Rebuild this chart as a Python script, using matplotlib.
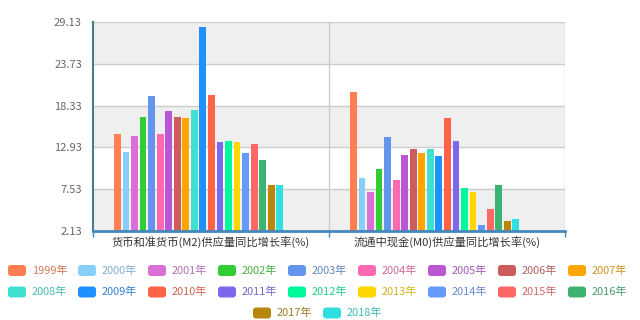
import matplotlib
matplotlib.use("Agg")
import matplotlib.pyplot as plt
import matplotlib.patches as mpatches
import matplotlib.transforms as mtransforms
from matplotlib.colors import to_rgb
import numpy as np

plt.rcParams['font.family'] = ['Noto Sans CJK SC', 'DejaVu Sans']

# categories and yearly series
categories = ['货币和准货币(M2)供应量同比增长率(%)', '流通中现金(M0)供应量同比增长率(%)']
years = [str(y) + '年' for y in range(1999, 2019)]
m2 = [14.7, 12.3, 14.4, 16.8, 19.6, 14.6, 17.6, 16.9, 16.7, 17.8,
      28.5, 19.7, 13.6, 13.8, 13.6, 12.2, 13.3, 11.3, 8.1, 8.1]
m0 = [20.1, 8.9, 7.1, 10.1, 14.3, 8.7, 11.9, 12.7, 12.2, 12.7,
      11.8, 16.7, 13.8, 7.7, 7.1, 2.9, 4.9, 8.1, 3.4, 3.6]
yticks = [2.13, 7.53, 12.93, 18.33, 23.73, 29.13]

colors = ['#ff7f50', '#87cefa', '#da70d6', '#32cd32', '#6495ed', '#ff69b4',
          '#ba55d3', '#cd5c5c', '#ffa500', '#40e0d0', '#1e90ff', '#ff6347',
          '#7b68ee', '#00fa9a', '#ffd700', '#6699ff', '#ff6666', '#3cb371',
          '#b8860b', '#30e0e0']

fig = plt.figure(figsize=(6.4, 3.2), dpi=100)

# legend layer (pixel coordinates)
lax = fig.add_axes([0, 0, 1, 1])
lax.set_xlim(0, 640)
lax.set_ylim(320, 0)
lax.axis('off')

ax = fig.add_axes([93 / 640, 1 - 230.7 / 320, 472 / 640, 208.4 / 320])
ax.set_xlim(0, 2)
ax.set_ylim(yticks[0], yticks[-1])

# alternating split areas
for k in range(len(yticks) - 1):
    if k % 2 == 0:
        ax.axhspan(yticks[k], yticks[k + 1], color='#efefef', zorder=0, lw=0)
for t in yticks[1:]:
    ax.axhline(t, color='#cccccc', lw=1, zorder=1)
ax.axvline(1, color='#cccccc', lw=1, zorder=1)
ax.axvline(2, color='#cccccc', lw=1, zorder=1)

pitch = 0.0362
width = 0.029
cat_x = np.arange(len(categories))
for j in range(len(years)):
    vals = [m2[j], m0[j]]
    ax.bar(cat_x + 0.1035 + j * pitch, np.array(vals) - yticks[0], width,
           bottom=yticks[0], color=colors[j], lw=0, zorder=2)

for s in ['top', 'right']:
    ax.spines[s].set_visible(False)
ax.spines['bottom'].set_color('#4488bb')
ax.spines['bottom'].set_linewidth(2)
ax.spines['left'].set_color('#4a7a8c')
ax.spines['left'].set_linewidth(1.5)

ax.set_yticks(yticks)
ax.set_yticklabels(['%.2f' % t for t in yticks], fontsize=8, color='#666666')
ax.tick_params(axis='y', length=0, pad=8)
ax.set_xticks([0, 1, 2])
ax.set_xticklabels([])
ax.tick_params(axis='x', length=4, color='#4488bb', width=1)
trans = mtransforms.blended_transform_factory(ax.transData, ax.transAxes)
for i, c in enumerate(categories):
    ax.text(i + 0.5, -0.03, c, transform=trans, ha='center', va='top',
            fontsize=8.1, color='#333333')


def muted(c):
    r = np.array(to_rgb(c))
    return tuple(0.7 * r + 0.3 * np.array([0.4, 0.4, 0.4]))


# legend
rows = [years[:9], years[9:18], years[18:]]
row_y = [270.5, 292, 313]
row_x0 = [8, 8, 253]
idx = 0
for r, names in enumerate(rows):
    for k, name in enumerate(names):
        x0 = row_x0[r] + k * 70
        box = mpatches.FancyBboxPatch((x0 + 2, row_y[r] - 3.5), 14, 7,
                                      boxstyle='round,pad=2,rounding_size=3',
                                      fc=colors[idx], ec='none')
        lax.add_patch(box)
        lax.text(x0 + 24, row_y[r], name, fontsize=7.9, color=muted(colors[idx]),
                 ha='left', va='center')
        idx += 1

fig.savefig('out.png', dpi=100)
